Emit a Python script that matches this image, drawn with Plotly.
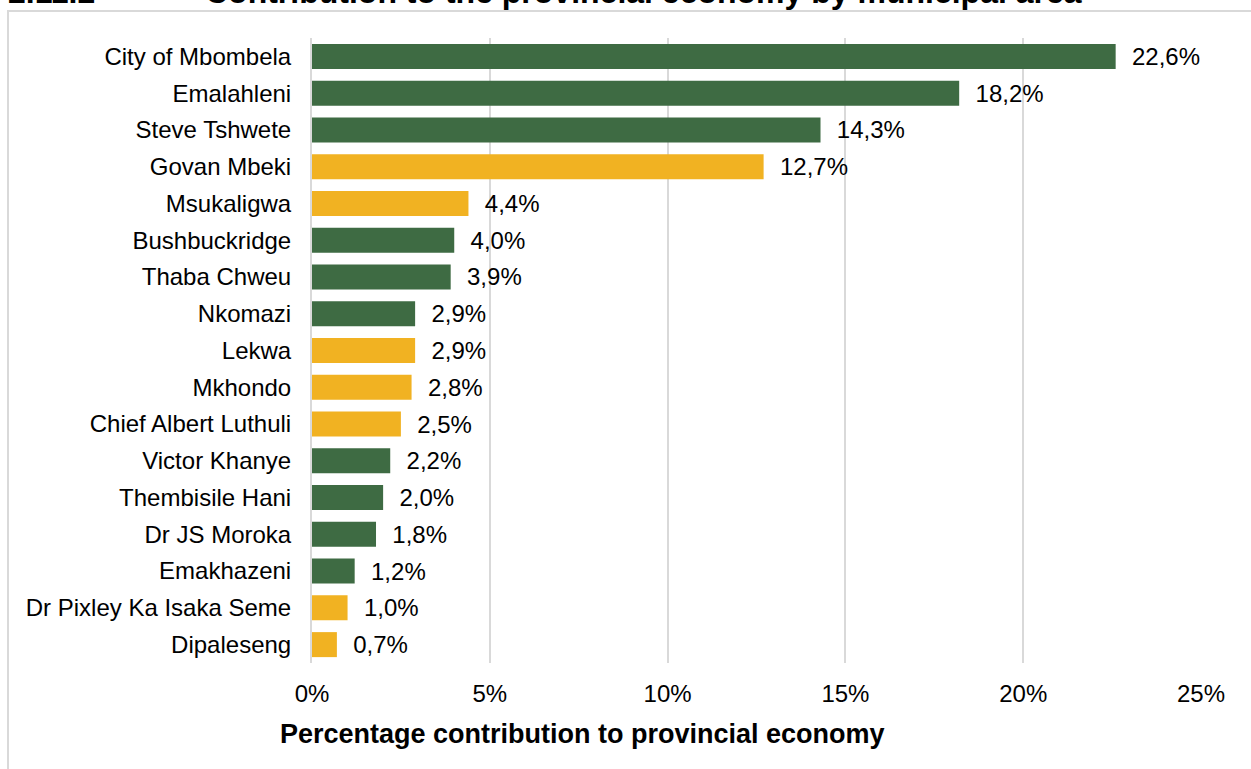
import plotly.graph_objects as go

municipalities = [
    "City of Mbombela", "Emalahleni", "Steve Tshwete", "Govan Mbeki", "Msukaligwa",
    "Bushbuckridge", "Thaba Chweu", "Nkomazi", "Lekwa", "Mkhondo",
    "Chief Albert Luthuli", "Victor Khanye", "Thembisile Hani", "Dr JS Moroka",
    "Emakhazeni", "Dr Pixley Ka Isaka Seme", "Dipaleseng",
]
shares = [22.6, 18.2, 14.3, 12.7, 4.4, 4.0, 3.9, 2.9, 2.9, 2.8, 2.5, 2.2, 2.0, 1.8, 1.2, 1.0, 0.7]
district_group = ["E", "N", "N", "G", "G", "E", "E", "E", "G", "G", "G", "N", "N", "N", "N", "G", "G"]
tick_vals = [0, 5, 10, 15, 20, 25]
tick_text = ["0%", "5%", "10%", "15%", "20%", "25%"]

GREEN = "#3E6B43"
YELLOW = "#F1B222"
colors = [YELLOW if g == "G" else GREEN for g in district_group]
labels = ["\u00a0\u00a0" + f"{v:.1f}".replace(".", ",") + "%" for v in shares]

FONT = "Liberation Sans, Arial, sans-serif"

fig = go.Figure(go.Bar(
    x=shares, y=municipalities, orientation="h",
    marker=dict(color=colors, line=dict(width=0)),
    text=labels, textposition="outside", cliponaxis=False,
    constraintext="none",
    textfont=dict(family=FONT, size=24, color="#000000"),
    hoverinfo="x+y",
))

fig.update_layout(
    width=1251, height=769,
    margin=dict(l=312, r=50, t=38, b=106),
    paper_bgcolor="white", plot_bgcolor="white",
    bargap=0.32,
    showlegend=False,
    font=dict(family=FONT, size=24, color="#000000"),
    xaxis=dict(
        range=[0, 25], tickvals=tick_vals, ticktext=tick_text,
        showgrid=True, gridcolor="#D9D9D9", gridwidth=2,
        zeroline=False, showline=False, ticks="",
        ticklabelstandoff=14,
        tickfont=dict(family=FONT, size=24, color="#000000"),
    ),
    yaxis=dict(
        autorange="reversed", showgrid=False, zeroline=False,
        showline=True, linecolor="#D9D9D9", linewidth=2, ticks="",
        ticklabelstandoff=14,
        tickfont=dict(family=FONT, size=24, color="#000000"),
    ),
    shapes=[dict(
        type="rect", xref="paper", yref="paper",
        x0=-304 / 889, x1=1.2, y0=-0.3, y1=1 + 27 / 625,
        line=dict(color="#D9D9D9", width=2), fillcolor="rgba(0,0,0,0)", layer="above",
    )],
    annotations=[
        dict(text="<b>Percentage contribution to provincial economy</b>",
             xref="paper", yref="paper", x=(582 - 312) / 889, y=-(734 - 663) / 625,
             xanchor="center", yanchor="middle", showarrow=False,
             font=dict(family=FONT, size=27, color="#000000")),
        dict(text="<b>2.11.2</b>", xref="paper", yref="paper",
             x=(6 - 312) / 889, y=1 + 46 / 625, xanchor="left", yanchor="middle",
             showarrow=False, font=dict(family=FONT, size=32, color="#000000")),
        dict(text="<b>Contribution to the provincial economy by municipal area</b>",
             xref="paper", yref="paper",
             x=(203 - 312) / 889, y=1 + 46 / 625, xanchor="left", yanchor="middle",
             showarrow=False, font=dict(family=FONT, size=32, color="#000000")),
    ],
)

fig.write_html("out.html")
